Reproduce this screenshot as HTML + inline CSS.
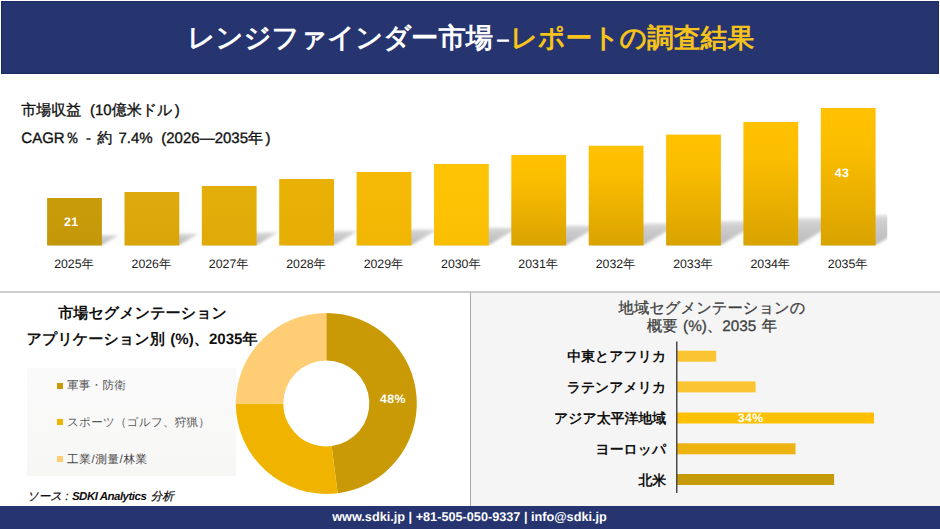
<!DOCTYPE html>
<html lang="ja"><head><meta charset="utf-8"><title>レンジファインダー市場 - レポートの調査結果</title>
<style>
html,body{margin:0;padding:0;background:#fff}
body{width:940px;height:529px;position:relative;overflow:hidden;text-rendering:geometricPrecision;font-family:"Liberation Sans",sans-serif;color:#111}
div{position:absolute;white-space:nowrap;line-height:20px}
.hdr{left:1px;top:1px;width:938px;height:72.5px;background:#26346f;box-shadow:inset 0 0 0 1px #202a62}
.title{left:187.6px;top:17.5px;height:40px;line-height:40px;font-size:27.3px;font-weight:bold;color:#fff}
.title .d{font-size:24px;margin-left:3.3px}
.title .y{color:#F6C21C;font-size:26.8px;margin-left:.9px}
.ftr{left:0;top:506px;width:940px;height:23px;background:#26346f}
.ftxt{left:-0.5px;width:940px;top:507.2px;text-align:center;color:#fff;font-weight:bold;font-size:12.7px}
.hline{left:0;top:291.1px;width:940px;height:1.8px;background:#cdcdcd}
.vline{left:470px;top:292px;width:1.2px;height:214px;background:#a8a8a8}
.rpanel{left:471.2px;top:292.8px;width:469px;height:213.2px;background:#f5f5f5}
.legend{left:26.5px;top:367.5px;width:209.5px;height:108px;background:linear-gradient(#fafafa,#f7f7f6)}
.t1{left:21.3px;font-size:15px;color:#111;word-spacing:2.1px;-webkit-text-stroke:.35px #111}
.t1 span{margin-left:2.4px}
.yl{top:254px;width:60px;text-align:center;font-size:12.3px;color:#222}
.vl{color:#fff;font-weight:bold;font-size:12.3px;letter-spacing:.4px;width:40px;text-align:center}
.st{font-size:15.1px;font-weight:bold;color:#111;word-spacing:1.3px}
.lg{left:67px;font-size:11.6px;color:#5a5a5a;letter-spacing:.2px}
.mk{left:57.2px;width:6px;height:6px}
.src{left:27px;top:486.5px;font-size:11.5px;font-style:italic;color:#111;-webkit-text-stroke:.25px #111}
.src b{letter-spacing:-.5px;margin-left:.3px;margin-right:1.2px;-webkit-text-stroke:0}
.rt{left:512px;width:400px;text-align:center;font-size:15.3px;color:#404040;word-spacing:1.3px;-webkit-text-stroke:.3px #404040}
.rl{left:466.2px;width:200px;text-align:right;font-size:13.9px;font-weight:bold;color:#111}
</style></head><body>
<div class="hdr"></div>
<div class="title">レンジファインダー市場<span class="d">–</span><span class="y">レポートの調査結果</span></div>
<div class="rpanel"></div>
<div class="hline"></div>
<div class="vline"></div>
<div class="legend"></div>
<div class="ftr"></div>
<svg width="940" height="529" viewBox="0 0 940 529" style="position:absolute;left:0;top:0"><defs><linearGradient id="sh" x1="0" y1="1" x2="0" y2="0"><stop offset="0" stop-color="#000" stop-opacity="0.27"/><stop offset="0.8" stop-color="#000" stop-opacity="0.19"/><stop offset="1" stop-color="#000" stop-opacity="0.12"/></linearGradient><filter id="bl" x="-20%" y="-20%" width="140%" height="140%"><feGaussianBlur stdDeviation="1.7"/></filter><clipPath id="chartclip"><rect x="0" y="80" width="887.2" height="165.6"/></clipPath><linearGradient id="b0" x1="0" y1="0" x2="0" y2="1"><stop offset="0" stop-color="#C89B0B"/><stop offset="0.3" stop-color="#C89B0B"/><stop offset="1" stop-color="#C4970A"/></linearGradient><linearGradient id="b1" x1="0" y1="0" x2="0" y2="1"><stop offset="0" stop-color="#DDA90C"/><stop offset="0.3" stop-color="#DDA90C"/><stop offset="1" stop-color="#D9A50A"/></linearGradient><linearGradient id="b2" x1="0" y1="0" x2="0" y2="1"><stop offset="0" stop-color="#E3AD0A"/><stop offset="0.3" stop-color="#E3AD0A"/><stop offset="1" stop-color="#DFA908"/></linearGradient><linearGradient id="b3" x1="0" y1="0" x2="0" y2="1"><stop offset="0" stop-color="#E9B106"/><stop offset="0.3" stop-color="#E9B106"/><stop offset="1" stop-color="#E5AD05"/></linearGradient><linearGradient id="b4" x1="0" y1="0" x2="0" y2="1"><stop offset="0" stop-color="#F4BA05"/><stop offset="0.3" stop-color="#F4BA05"/><stop offset="1" stop-color="#F0B604"/></linearGradient><linearGradient id="b5" x1="0" y1="0" x2="0" y2="1"><stop offset="0" stop-color="#FFC305"/><stop offset="0.3" stop-color="#FFC305"/><stop offset="1" stop-color="#F9BD03"/></linearGradient><linearGradient id="b6" x1="0" y1="0" x2="0" y2="1"><stop offset="0" stop-color="#FFC100"/><stop offset="0.3" stop-color="#FBBD00"/><stop offset="1" stop-color="#D9A300"/></linearGradient><linearGradient id="b7" x1="0" y1="0" x2="0" y2="1"><stop offset="0" stop-color="#FFC100"/><stop offset="0.3" stop-color="#FBBD00"/><stop offset="1" stop-color="#D9A300"/></linearGradient><linearGradient id="b8" x1="0" y1="0" x2="0" y2="1"><stop offset="0" stop-color="#FFC100"/><stop offset="0.3" stop-color="#FBBD00"/><stop offset="1" stop-color="#D9A300"/></linearGradient><linearGradient id="b9" x1="0" y1="0" x2="0" y2="1"><stop offset="0" stop-color="#FFC100"/><stop offset="0.3" stop-color="#FBBD00"/><stop offset="1" stop-color="#D9A300"/></linearGradient><linearGradient id="b10" x1="0" y1="0" x2="0" y2="1"><stop offset="0" stop-color="#FFC100"/><stop offset="0.3" stop-color="#FBBD00"/><stop offset="1" stop-color="#D9A300"/></linearGradient></defs>
<g clip-path="url(#chartclip)"><g filter="url(#bl)"><polygon points="49.1,245.5 101.4,245.5 119.0,235.0 66.7,235.0" fill="url(#sh)"/><polygon points="126.5,245.5 178.8,245.5 198.6,233.6 146.3,233.6" fill="url(#sh)"/><polygon points="203.8,245.5 256.1,245.5 278.2,232.3 225.9,232.3" fill="url(#sh)"/><polygon points="281.2,245.5 333.5,245.5 358.1,230.7 305.8,230.7" fill="url(#sh)"/><polygon points="358.6,245.5 410.9,245.5 438.1,229.2 385.8,229.2" fill="url(#sh)"/><polygon points="436.0,245.5 488.3,245.5 518.4,227.4 466.1,227.4" fill="url(#sh)"/><polygon points="513.3,245.5 565.6,245.5 599.1,225.4 546.8,225.4" fill="url(#sh)"/><polygon points="590.7,245.5 643.0,245.5 679.9,223.3 627.6,223.3" fill="url(#sh)"/><polygon points="668.1,245.5 720.4,245.5 761.4,220.9 709.1,220.9" fill="url(#sh)"/><polygon points="745.4,245.5 797.7,245.5 843.4,218.1 791.1,218.1" fill="url(#sh)"/><polygon points="822.8,245.5 875.1,245.5 926.0,215.0 873.7,215.0" fill="url(#sh)"/></g></g>
<rect x="47.1" y="198.0" width="54.8" height="47.5" fill="url(#b0)"/><rect x="124.5" y="192.0" width="54.8" height="53.5" fill="url(#b1)"/><rect x="201.8" y="186.0" width="54.8" height="59.5" fill="url(#b2)"/><rect x="279.2" y="179.0" width="54.8" height="66.5" fill="url(#b3)"/><rect x="356.6" y="172.0" width="54.8" height="73.5" fill="url(#b4)"/><rect x="434.0" y="164.0" width="54.8" height="81.5" fill="url(#b5)"/><rect x="511.3" y="155.0" width="54.8" height="90.5" fill="url(#b6)"/><rect x="588.7" y="145.7" width="54.8" height="99.8" fill="url(#b7)"/><rect x="666.1" y="134.6" width="54.8" height="110.9" fill="url(#b8)"/><rect x="743.4" y="122.0" width="54.8" height="123.5" fill="url(#b9)"/><rect x="820.8" y="108.0" width="54.8" height="137.5" fill="url(#b10)"/>
<path d="M326.30 312.90 A90.5 90.5 0 0 1 337.64 493.19 L331.69 446.06 A43.0 43.0 0 0 0 326.30 360.40 Z" fill="#C99A06"/>
<path d="M337.64 493.19 A90.5 90.5 0 0 1 235.80 403.40 L283.30 403.40 A43.0 43.0 0 0 0 331.69 446.06 Z" fill="#F0B400"/>
<path d="M235.80 403.40 A90.5 90.5 0 0 1 326.30 312.90 L326.30 360.40 A43.0 43.0 0 0 0 283.30 403.40 Z" fill="#FFCD73"/>
<rect x="677.2" y="350.7" width="39.0" height="11" fill="#FBC531"/>
<rect x="677.2" y="381.4" width="78.4" height="11" fill="#FBC531"/>
<rect x="677.2" y="412.5" width="196.8" height="11" fill="#FFC000"/>
<rect x="677.2" y="443.3" width="118.3" height="11" fill="#EDB310"/>
<rect x="677.2" y="474.0" width="156.9" height="11" fill="#C79A0A"/>
<rect x="676.2" y="341.5" width="1.2" height="151.5" fill="#222"/></svg>
<div class="t1" style="top:101.3px">市場収益 <span>(</span>10億米ドル<span>)</span></div>
<div class="t1" style="top:129.1px">CAGR％ - 約 7.4% <span>(</span>2026―2035年<span>)</span></div>
<div class="vl" style="left:51.2px;top:212.2px">21</div>
<div class="vl" style="left:822px;top:163.2px">43</div>
<div class="vl" style="left:373px;top:389.2px">48%</div>
<div class="vl" style="left:730.6px;top:408.2px">34%</div>
<div class="st" style="left:58.2px;top:303.6px">市場セグメンテーション</div>
<div class="st" style="left:26.5px;top:330px">アプリケーション別 (%)、2035年</div>
<div class="mk" style="top:383.2px;background:#C99A06"></div><div class="lg" style="top:376px">軍事・防衛</div>
<div class="mk" style="top:419.3px;background:#F0B400"></div><div class="lg" style="top:412.5px">スポーツ（ゴルフ、狩猟）</div>
<div class="mk" style="top:455.8px;background:#FFCD73"></div><div class="lg" style="top:449.5px;letter-spacing:.6px;color:#454545">工業/測量/林業</div>
<div class="src">ソース : <b>SDKI Analytics</b> 分析</div>
<div class="rt" style="top:298.5px">地域セグメンテーションの</div>
<div class="rt" style="top:316.8px">概要 (%)、2035 年</div>
<div class="yl" style="left:44.0px">2025年</div>
<div class="yl" style="left:121.4px">2026年</div>
<div class="yl" style="left:198.7px">2027年</div>
<div class="yl" style="left:276.1px">2028年</div>
<div class="yl" style="left:353.5px">2029年</div>
<div class="yl" style="left:430.9px">2030年</div>
<div class="yl" style="left:508.2px">2031年</div>
<div class="yl" style="left:585.6px">2032年</div>
<div class="yl" style="left:663.0px">2033年</div>
<div class="yl" style="left:740.3px">2034年</div>
<div class="yl" style="left:817.7px">2035年</div>
<div class="rl" style="top:346.2px">中東とアフリカ</div>
<div class="rl" style="top:376.9px">ラテンアメリカ</div>
<div class="rl" style="top:408.0px">アジア太平洋地域</div>
<div class="rl" style="top:438.8px">ヨーロッパ</div>
<div class="rl" style="top:469.5px">北米</div>
<div class="ftxt">www.sdki.jp | +81-505-050-9337 | info@sdki.jp</div>
</body></html>
